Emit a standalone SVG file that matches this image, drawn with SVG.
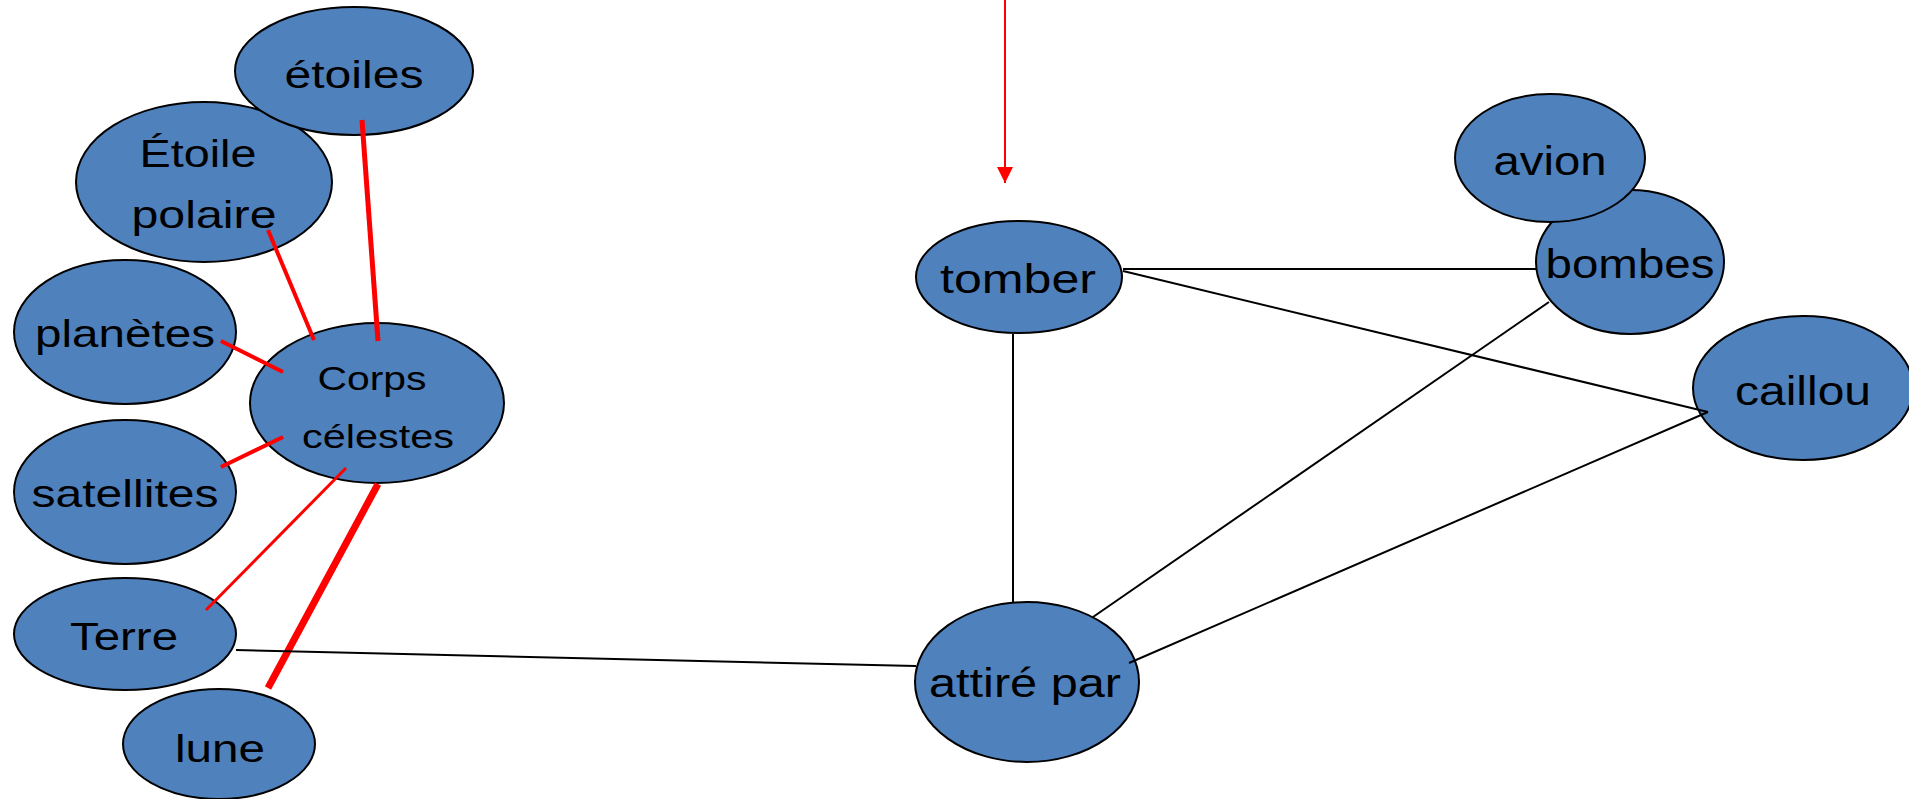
<svg xmlns="http://www.w3.org/2000/svg" width="1909" height="799" viewBox="0 0 1909 799">
<defs>
<style>
.n{fill:#4F81BD;stroke:#000;stroke-width:2}
.t{font-family:"Liberation Sans",Arial,sans-serif;fill:#000;text-anchor:middle}
.l{font-size:39px}
.s{font-size:34px}
.r{font-size:41px}
.red{stroke:#FF0000;fill:none}
.blk{stroke:#000;stroke-width:2;fill:none}
</style>
<marker id="ah" markerWidth="16" markerHeight="16" refX="16" refY="8" orient="auto" markerUnits="userSpaceOnUse" viewBox="0 0 16 16">
<path d="M0,0 L16,8 L0,16 Z" fill="#FF0000"/>
</marker>
</defs>
<rect width="1909" height="799" fill="#fff"/>
<g id="n-etoile-polaire"><ellipse class="n" cx="204" cy="182" rx="128" ry="80"/><text class="t l" x="198" y="167" textLength="117" lengthAdjust="spacingAndGlyphs">Étoile</text><text class="t l" x="204" y="228" textLength="145" lengthAdjust="spacingAndGlyphs">polaire</text></g>
<g id="n-etoiles"><ellipse class="n" cx="354" cy="71" rx="119" ry="64"/><text class="t l" x="354" y="88" textLength="139" lengthAdjust="spacingAndGlyphs">étoiles</text></g>
<g id="n-planetes"><ellipse class="n" cx="125" cy="332" rx="111" ry="72"/><text class="t l" x="125" y="347" textLength="180" lengthAdjust="spacingAndGlyphs">planètes</text></g>
<g id="n-satellites"><ellipse class="n" cx="125" cy="492" rx="111" ry="72"/><text class="t l" x="125" y="507" textLength="187" lengthAdjust="spacingAndGlyphs">satellites</text></g>
<g id="n-terre"><ellipse class="n" cx="125" cy="634" rx="111" ry="56"/><text class="t l" x="124" y="650" textLength="108" lengthAdjust="spacingAndGlyphs">Terre</text></g>
<g id="n-lune"><ellipse class="n" cx="219" cy="744" rx="96" ry="55"/><text class="t l" x="220" y="762" textLength="90" lengthAdjust="spacingAndGlyphs">lune</text></g>
<g id="n-corps"><ellipse class="n" cx="377" cy="403" rx="127" ry="80"/><text class="t s" x="372" y="390" textLength="109" lengthAdjust="spacingAndGlyphs">Corps</text><text class="t s" x="378" y="448" textLength="152" lengthAdjust="spacingAndGlyphs">célestes</text></g>
<g id="n-tomber"><ellipse class="n" cx="1019" cy="277" rx="103" ry="56"/><text class="t r" x="1018" y="293" textLength="156" lengthAdjust="spacingAndGlyphs">tomber</text></g>
<g id="n-bombes"><ellipse class="n" cx="1630" cy="262" rx="94" ry="72"/><text class="t r" x="1630" y="278" textLength="169" lengthAdjust="spacingAndGlyphs">bombes</text></g>
<g id="n-avion"><ellipse class="n" cx="1550" cy="158" rx="95" ry="64"/><text class="t r" x="1550" y="175" textLength="113" lengthAdjust="spacingAndGlyphs">avion</text></g>
<g id="n-caillou"><ellipse class="n" cx="1803" cy="388" rx="110" ry="72"/><text class="t r" x="1803" y="405" textLength="136" lengthAdjust="spacingAndGlyphs">caillou</text></g>
<g id="n-attire-par"><ellipse class="n" cx="1027" cy="682" rx="112" ry="80"/><text class="t r" x="1025" y="697" textLength="192" lengthAdjust="spacingAndGlyphs">attiré par</text></g>
<g id="connectors">
<line class="red" x1="362" y1="120" x2="378" y2="341" stroke-width="5"/>
<line class="red" x1="268" y1="230" x2="314" y2="340" stroke-width="4"/>
<line class="red" x1="221" y1="341" x2="283" y2="372" stroke-width="4"/>
<line class="red" x1="221" y1="467" x2="283" y2="437" stroke-width="4"/>
<line class="red" x1="206" y1="610" x2="346" y2="468" stroke-width="3"/>
<line class="red" x1="268" y1="688" x2="378" y2="484" stroke-width="7"/>
<line class="blk" x1="236" y1="650" x2="916" y2="666"/>
<line class="blk" x1="1123" y1="269" x2="1536" y2="269"/>
<line class="blk" x1="1123" y1="271" x2="1708" y2="412"/>
<line class="blk" x1="1013" y1="334" x2="1013" y2="602"/>
<line class="blk" x1="1549" y1="302" x2="1093" y2="617"/>
<line class="blk" x1="1129" y1="663" x2="1708" y2="412"/>
<line class="red" x1="1005" y1="0" x2="1005" y2="183" stroke-width="2" marker-end="url(#ah)"/>
</g>
</svg>
